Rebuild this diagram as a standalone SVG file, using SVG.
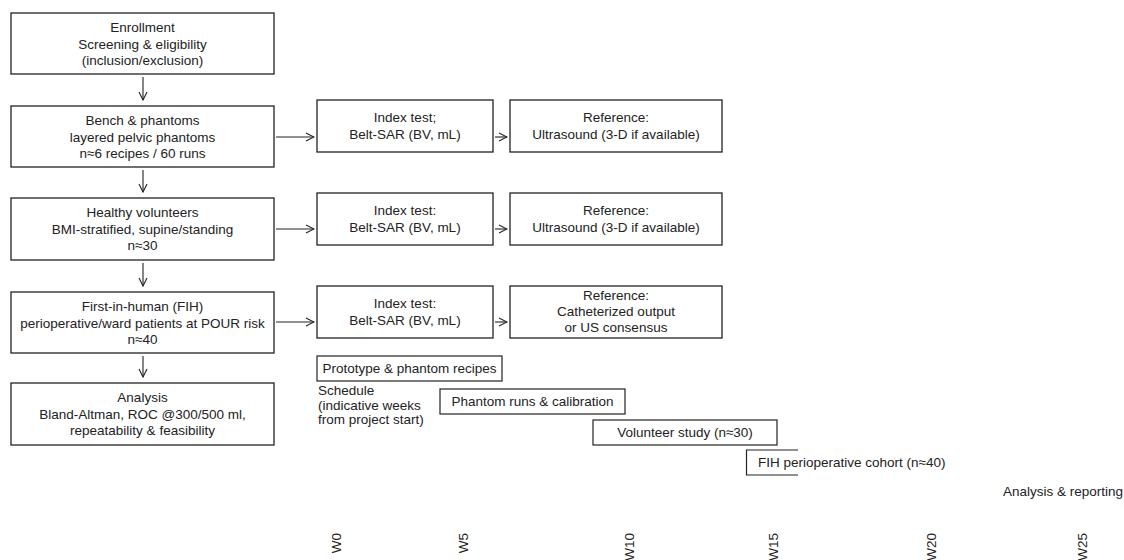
<svg xmlns="http://www.w3.org/2000/svg" width="1124" height="560" viewBox="0 0 1124 560">
<defs>
<marker id="arr" viewBox="0 0 10 10" refX="9" refY="5" markerWidth="10" markerHeight="10" markerUnits="userSpaceOnUse" orient="auto">
<path d="M1,1 L9,5 L1,9" fill="none" stroke="#222" stroke-width="1.1"/>
</marker>
<style>
text{font-family:"Liberation Sans",Arial,sans-serif;font-size:13.5px;fill:#222}
.c{text-anchor:middle}
.box{fill:#fff;stroke:#222;stroke-width:1.3}
.bar{fill:#fff;stroke:#222;stroke-width:1.2}
.ln{fill:none;stroke:#222;stroke-width:1.1;marker-end:url(#arr)}
</style>
</defs>
<rect width="1124" height="560" fill="#fff"/>
<g id="connectors">
<path class="ln" d="M143,77 V100"/>
<path class="ln" d="M143,170 V192"/>
<path class="ln" d="M143,263 V286"/>
<path class="ln" d="M143,356 V377"/>
<path class="ln" d="M276,137 H314"/>
<path class="ln" d="M276,229 H314"/>
<path class="ln" d="M276,322 H314"/>
<path class="ln" d="M495,137 H507"/>
<path class="ln" d="M495,229 H507"/>
<path class="ln" d="M495,322 H507"/>
</g>
<g id="enrollment">
<rect class="box" x="11" y="13" width="263" height="61"/>
<text class="c" x="142.5" y="32">Enrollment</text>
<text class="c" x="142.5" y="48.5">Screening &amp; eligibility</text>
<text class="c" x="142.5" y="65">(inclusion/exclusion)</text>
</g>
<g id="bench">
<rect class="box" x="11" y="106" width="263" height="61"/>
<text class="c" x="142.5" y="125">Bench &amp; phantoms</text>
<text class="c" x="142.5" y="141.5">layered pelvic phantoms</text>
<text class="c" x="142.5" y="158">n≈6 recipes / 60 runs</text>
</g>
<g id="healthy">
<rect class="box" x="11" y="198" width="263" height="62"/>
<text class="c" x="142.5" y="217">Healthy volunteers</text>
<text class="c" x="142.5" y="233.5">BMI-stratified, supine/standing</text>
<text class="c" x="142.5" y="250">n≈30</text>
</g>
<g id="fih">
<rect class="box" x="11" y="292" width="263" height="61"/>
<text class="c" x="142.5" y="311">First-in-human (FIH)</text>
<text class="c" x="142.5" y="327.5">perioperative/ward patients at POUR risk</text>
<text class="c" x="142.5" y="344">n≈40</text>
</g>
<g id="analysis">
<rect class="box" x="11" y="383" width="263" height="62"/>
<text class="c" x="142.5" y="402">Analysis</text>
<text class="c" x="142.5" y="418.5">Bland-Altman, ROC @300/500 ml,</text>
<text class="c" x="142.5" y="435">repeatability &amp; feasibility</text>
</g>
<g id="index1">
<rect class="box" x="317" y="100" width="176" height="52"/>
<text class="c" x="405" y="122">Index test;</text>
<text class="c" x="405" y="138.5">Belt-SAR (BV, mL)</text>
</g>
<g id="ref1">
<rect class="box" x="510" y="100" width="212" height="52"/>
<text class="c" x="616" y="122">Reference:</text>
<text class="c" x="616" y="138.5">Ultrasound (3-D if available)</text>
</g>
<g id="index2">
<rect class="box" x="317" y="193" width="176" height="52"/>
<text class="c" x="405" y="215">Index test:</text>
<text class="c" x="405" y="231.5">Belt-SAR (BV, mL)</text>
</g>
<g id="ref2">
<rect class="box" x="510" y="193" width="212" height="52"/>
<text class="c" x="616" y="215">Reference:</text>
<text class="c" x="616" y="231.5">Ultrasound (3-D if available)</text>
</g>
<g id="index3">
<rect class="box" x="317" y="286" width="176" height="52"/>
<text class="c" x="405" y="308">Index test:</text>
<text class="c" x="405" y="324.5">Belt-SAR (BV, mL)</text>
</g>
<g id="ref3">
<rect class="box" x="510" y="286" width="212" height="52"/>
<text class="c" x="616" y="299.5">Reference:</text>
<text class="c" x="616" y="315.5">Catheterized output</text>
<text class="c" x="616" y="331.5">or US consensus</text>
</g>
<g id="schedule">
<rect class="bar" x="317" y="356" width="185" height="25"/>
<text class="c" x="409.5" y="373">Prototype &amp; phantom recipes</text>
<text x="318" y="395">Schedule</text>
<text x="318" y="410">(indicative weeks</text>
<text x="318" y="424">from project start)</text>
<rect class="bar" x="440" y="389" width="185" height="25"/>
<text class="c" x="532.5" y="406">Phantom runs &amp; calibration</text>
<rect class="bar" x="593" y="420" width="184" height="25"/>
<text class="c" x="685" y="437">Volunteer study (n≈30)</text>
<path class="bar" fill="none" d="M798,450 H746.5 V475 H798"/>
<text x="758" y="467">FIH perioperative cohort (n≈40)</text>
<text x="1003" y="496">Analysis &amp; reporting</text>
</g>
<g id="axis">
<text transform="translate(341,533) rotate(-90)" text-anchor="end">W0</text>
<text transform="translate(468,533) rotate(-90)" text-anchor="end">W5</text>
<text transform="translate(634,533) rotate(-90)" text-anchor="end">W10</text>
<text transform="translate(778,533) rotate(-90)" text-anchor="end">W15</text>
<text transform="translate(936,533) rotate(-90)" text-anchor="end">W20</text>
<text transform="translate(1087,533) rotate(-90)" text-anchor="end">W25</text>
</g>
</svg>
